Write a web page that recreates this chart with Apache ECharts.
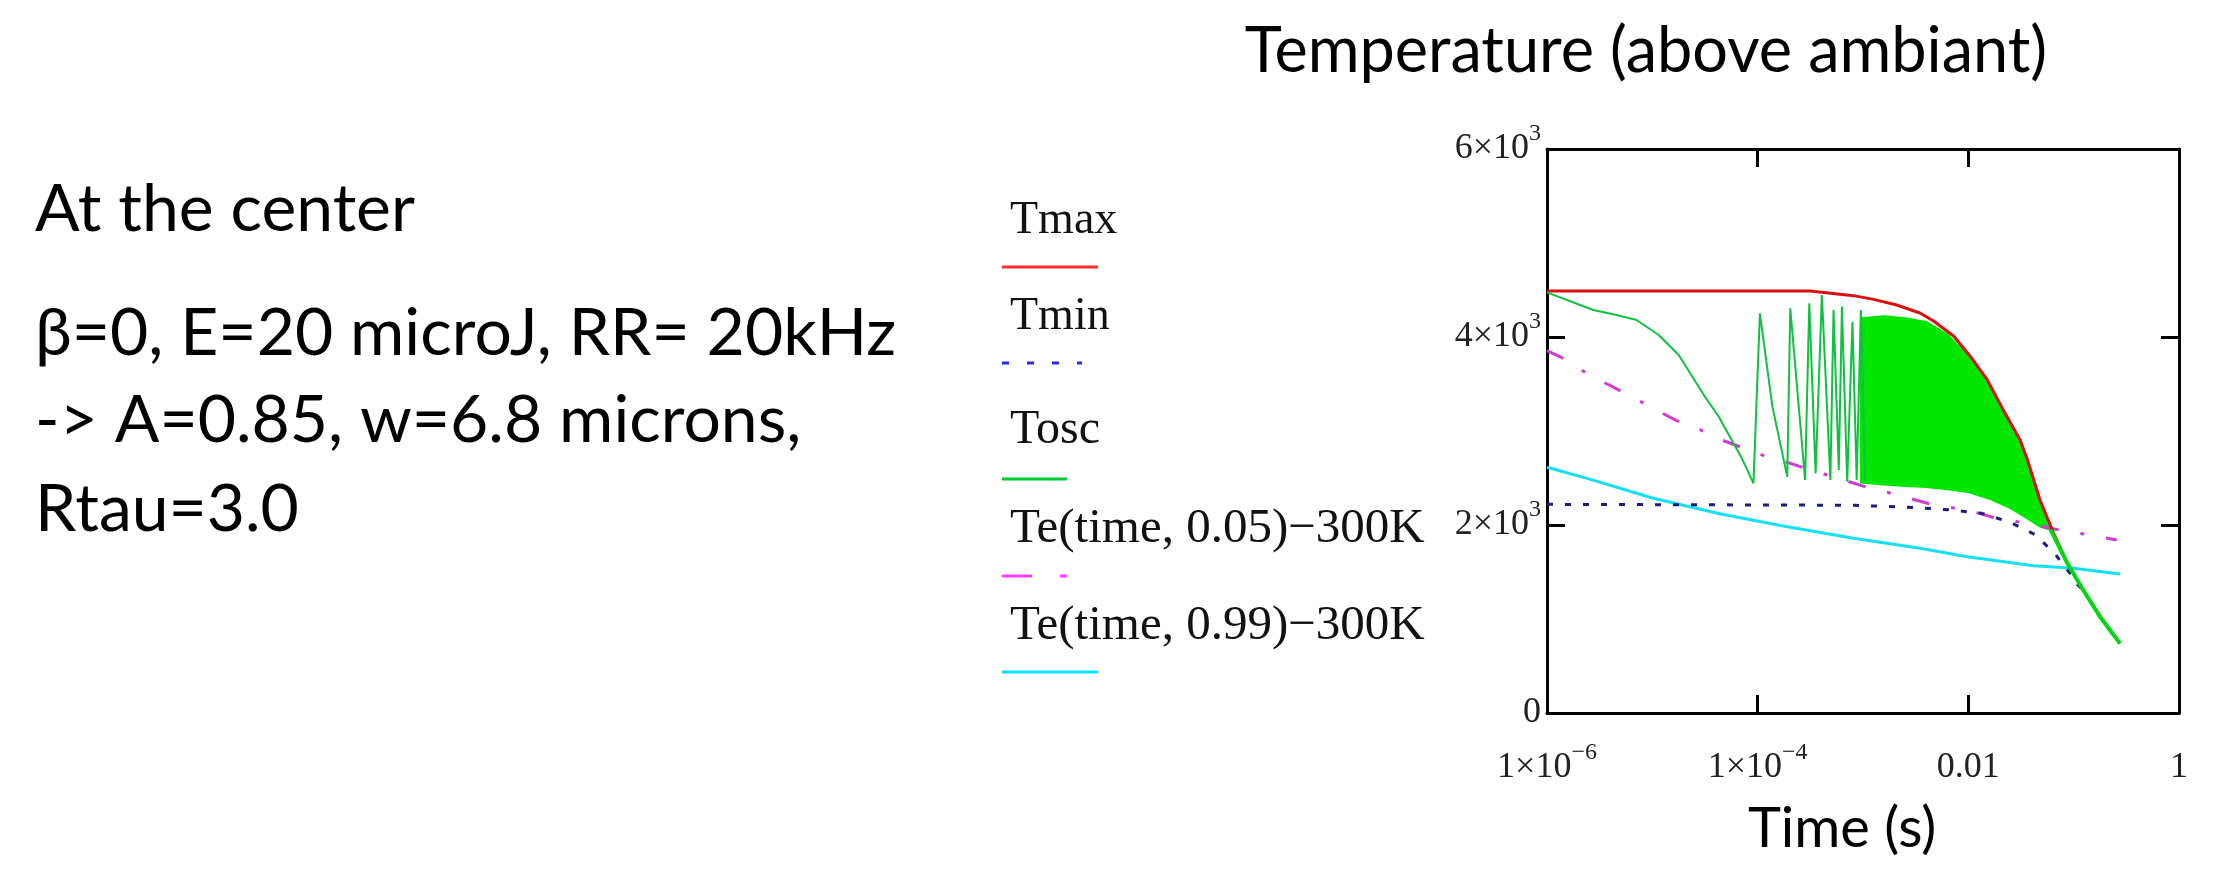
<!DOCTYPE html>
<html>
<head>
<meta charset="utf-8">
<title>Temperature (above ambiant)</title>
<script src="https://cdn.jsdelivr.net/npm/echarts@6.0.0/dist/echarts.min.js"></script>
<style>
  html, body { margin: 0; padding: 0; background: #fff; }
  #plot { width: 2219px; height: 883px; }
</style>
</head>
<body>
<div id="plot"></div>
<script>
// values (time in s, temperature in K above ambient)
const tmaxTime = [1e-6, 3.16e-4, 8.13e-4, 1.26e-3, 2.09e-3, 3.47e-3, 4.68e-3, 7.24e-3, 1.05e-2, 1.51e-2, 2.14e-2, 3.09e-2, 3.63e-2, 4.79e-2, 6.46e-2, 8.71e-2, 0.123, 0.178, 0.275];
const tmaxTemp = [4490, 4490, 4440, 4400, 4340, 4255, 4170, 4010, 3790, 3546, 3227, 2908, 2700, 2266, 1911, 1592, 1309, 1024, 741];

const tminTime = [1e-6, 8.13e-4, 3.16e-3, 6.76e-3, 1.35e-2, 2.51e-2, 3.39e-2, 4.37e-2, 5.37e-2, 6.61e-2, 7.76e-2, 9.55e-2, 0.107, 0.123, 0.178, 0.275];
const tminTemp = [2220, 2210, 2186, 2160, 2124, 2028, 1954, 1894, 1794, 1699, 1592, 1468, 1372, 1309, 1024, 741];

// Tosc: first decay, then the visible single oscillations
const oscTime = [1e-6, 2.75e-6, 4.57e-6, 7.08e-6, 1.15e-5, 1.78e-5, 3.16e-5, 4.27e-5, 7.08e-5, 9.12e-5,
  1.05e-4, 1.38e-4, 1.91e-4, 2.04e-4, 2.82e-4, 3.09e-4, 3.55e-4, 4.07e-4, 4.90e-4, 5.25e-4,
  5.89e-4, 6.31e-4, 7.08e-4, 7.94e-4, 8.71e-4, 9.55e-4, 1.05e-3];
const oscTemp = [4475, 4287, 4234, 4181, 4021, 3809, 3365, 3152, 2709, 2443,
  4252, 3259, 2514, 4305, 2479, 4358, 2549, 4447, 2479, 4287,
  2585, 4323, 2461, 4163, 2479, 4287, 2461];
// Tosc: dense part, upper and lower envelope of the filled band
const bandTime = [9.55e-4, 1.58e-3, 2.51e-3, 3.98e-3, 6.31e-3, 1.0e-2, 1.58e-2, 2.51e-2, 3.63e-2, 4.79e-2, 6.03e-2];
const bandUpper = [4200, 4220, 4200, 4160, 4030, 3790, 3480, 3070, 2670, 2250, 1950];
const bandLower = [2450, 2430, 2415, 2405, 2380, 2350, 2280, 2180, 2070, 1982, 1950];
// Tosc: tail after the band closes
const tailTime = [6.03e-2, 8.71e-2, 0.123, 0.178, 0.275];
const tailTemp = [1950, 1592, 1309, 1024, 741];

const te05Time = [1e-6, 1.48e-6, 2.51e-6, 4.17e-6, 6.17e-6, 1.02e-5, 1.70e-5, 2.57e-5, 4.37e-5, 7.59e-5, 1.10e-4, 1.82e-4,
  3.16e-4, 4.27e-4, 1.17e-3, 1.62e-3, 2.63e-3, 4.68e-3, 9.77e-3, 1.86e-2, 3.63e-2, 8.13e-2, 0.145, 0.257];
const te05Temp = [3854, 3766, 3596, 3472, 3372, 3241, 3110, 3039, 2912, 2812, 2745, 2674,
  2585, 2543, 2390, 2355, 2291, 2213, 2160, 2071, 2018, 1936, 1894, 1840];

const te99Time = [1e-6, 2.40e-6, 1.02e-5, 4.47e-5, 1.91e-4, 8.13e-4, 3.47e-3, 9.77e-3, 4.17e-2, 0.1, 0.275];
const te99Temp = [2614, 2496, 2284, 2117, 1982, 1858, 1752, 1663, 1567, 1539, 1479];

// tick labels
const xTickExp = [-6, -4, -2, 0];
const xTickLabels = ["{n|1×10}{s|−6}", "{n|1×10}{s|−4}", "{n|0.01}", "{n|1}"];
const yTickValues = [0, 2000, 4000, 6000];
const yTickLabels = ["{n|0}", "{n|2×10}{s|3}", "{n|4×10}{s|3}", "{n|6×10}{s|3}"];

const legendNames = ["Tmax", "Tmin", "Tosc", "Te(time, 0.05)−300K", "Te(time, 0.99)−300K"];
const infoLines = ["At the center", "β=0, E=20 microJ, RR= 20kHz", "-> A=0.85, w=6.8 microns,", "Rtau=3.0"];

function pairs(xs, ys) {
  return xs.map(function (x, i) { return [x, ys[i]]; });
}

const serif = '"Liberation Serif", "Times New Roman", serif';
const sans = 'Lato, "Noto Sans", sans-serif';
const tickRich = {
  n: { fontFamily: serif, fontSize: 36, lineHeight: 54, color: "#222" },
  s: { fontFamily: serif, fontSize: 24, lineHeight: 24, verticalAlign: "top", color: "#222" },
};
// box edges: onZero off, otherwise the top/right axes jump to the zero line
const frame = { show: true, onZero: false, lineStyle: { color: "#000", width: 3 } };
const ticks = { show: true, inside: true, length: 18, lineStyle: { color: "#000", width: 3 } };

const myChart = echarts.init(document.getElementById("plot"), null, { renderer: "canvas" });

const legendY = [221, 317, 430, 529, 626];
const legendSize = [46, 46, 48, 49, 49];
const lineY = [267, 363, 479, 576, 672];
const graphics = [];
legendNames.forEach(function (name, i) {
  graphics.push({
    type: "text", x: 1010, y: legendY[i],
    style: { text: name, font: legendSize[i] + "px " + serif, fill: "#111", align: "left", verticalAlign: "middle" },
  });
});
graphics.push({ type: "line", shape: { x1: 1002, y1: lineY[0], x2: 1098, y2: lineY[0] }, style: { stroke: "#ff2a2a", lineWidth: 3 } });
graphics.push({ type: "line", shape: { x1: 1002, y1: lineY[1], x2: 1082, y2: lineY[1] }, style: { stroke: "#2a2ad8", lineWidth: 3, lineDash: [7, 18] } });
graphics.push({ type: "line", shape: { x1: 1002, y1: lineY[2], x2: 1067, y2: lineY[2] }, style: { stroke: "#00cc33", lineWidth: 3 } });
graphics.push({ type: "line", shape: { x1: 1002, y1: lineY[3], x2: 1067, y2: lineY[3] }, style: { stroke: "#ff3cff", lineWidth: 3, lineDash: [30, 28, 7, 100] } });
graphics.push({ type: "line", shape: { x1: 1002, y1: lineY[4], x2: 1098, y2: lineY[4] }, style: { stroke: "#00e0ff", lineWidth: 3 } });

const infoY = [210, 334, 421, 510];
infoLines.forEach(function (txt, i) {
  graphics.push({
    type: "text", x: 35, y: infoY[i],
    style: { text: txt, font: "66px " + sans, fill: "#000", align: "left", verticalAlign: "middle" },
  });
});
graphics.push({ type: "text", x: 1646, y: 52, style: { text: "Temperature (above ambiant)", font: "63px " + sans, fill: "#000", align: "center", verticalAlign: "middle" } });
graphics.push({ type: "text", x: 1842, y: 829, style: { text: "Time (s)", font: "56px " + sans, fill: "#000", align: "center", verticalAlign: "middle" } });

const option = {
  animation: false,
  backgroundColor: "#fff",
  grid: { left: 1547, top: 149, width: 632, height: 564 },
  xAxis: [
    {
      type: "log", logBase: 10, min: 1e-6, max: 1, interval: 2, position: "bottom",
      axisLine: frame, axisTick: ticks, splitLine: { show: false },
      axisLabel: {
        margin: 28, rich: tickRich,
        formatter: function (v) {
          const k = xTickExp.indexOf(Math.round(Math.log10(v)));
          return k < 0 ? "" : xTickLabels[k];
        },
      },
    },
    {
      type: "log", logBase: 10, min: 1e-6, max: 1, interval: 2, position: "top",
      axisLine: frame, axisTick: ticks, splitLine: { show: false }, axisLabel: { show: false },
    },
  ],
  yAxis: [
    {
      type: "value", min: 0, max: 6000, interval: 2000, position: "left",
      axisLine: frame, axisTick: ticks, splitLine: { show: false },
      axisLabel: {
        margin: 6, rich: tickRich,
        formatter: function (v) {
          const k = yTickValues.indexOf(v);
          return k < 0 ? "" : yTickLabels[k];
        },
      },
    },
    {
      type: "value", min: 0, max: 6000, interval: 2000, position: "right",
      axisLine: frame, axisTick: ticks, splitLine: { show: false }, axisLabel: { show: false },
    },
  ],
  series: [
    {
      name: legendNames[4], type: "line", data: pairs(te99Time, te99Temp),
      showSymbol: false, lineStyle: { color: "#14e0f0", width: 3 },
    },
    {
      name: legendNames[3], type: "line", data: pairs(te05Time, te05Temp),
      showSymbol: false, lineStyle: { color: "#d03cd0", width: 3, type: [18, 22, 4, 22] },
    },
    {
      name: legendNames[1], type: "line", data: pairs(tminTime, tminTemp),
      showSymbol: false, lineStyle: { color: "#1c1c80", width: 3, type: [6, 12] },
    },
    {
      name: legendNames[0], type: "line", data: pairs(tmaxTime, tmaxTemp),
      showSymbol: false, lineStyle: { color: "#d81010", width: 3 },
    },
    {
      name: legendNames[2], type: "custom",
      data: [[bandTime[0], bandUpper[0]]],
      renderItem: function (params, api) {
        const top = bandTime.map(function (t, i) { return api.coord([t, bandUpper[i]]); });
        const bottom = bandTime.map(function (t, i) { return api.coord([t, bandLower[i]]); }).reverse();
        return { type: "polygon", shape: { points: top.concat(bottom) }, style: { fill: "#00e600", stroke: "#00e600", lineWidth: 2 } };
      },
    },
    {
      name: legendNames[2], type: "line", data: pairs(oscTime, oscTemp),
      showSymbol: false, lineStyle: { color: "#10c040", width: 2 },
    },
    {
      name: legendNames[2], type: "line", data: pairs(tailTime, tailTemp),
      showSymbol: false, lineStyle: { color: "#00d810", width: 4 },
    },
  ],
  graphic: { elements: graphics },
};
myChart.setOption(option);
</script>
</body>
</html>
